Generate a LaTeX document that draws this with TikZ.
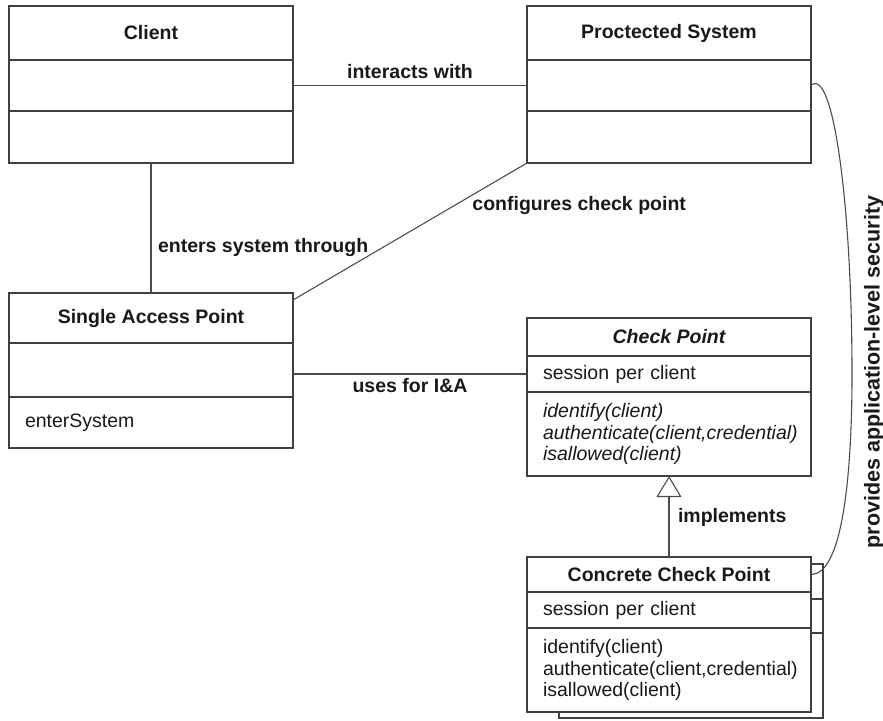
\documentclass[tikz,border=0pt]{standalone}
\usepackage{fontspec}
\setmainfont{Liberation Sans}
\usetikzlibrary{positioning, arrows.meta, backgrounds}
\hyphenpenalty=10000

\begin{document}
\begin{tikzpicture}
	[x=1pt, y=-1pt, outer sep=0pt,
	 box/.style={draw=black!75, line width=1.2pt, fill=white, text=black!90, minimum width=284pt},
	 classname/.style={box, font=\fontsize{19.5}{21.7}\selectfont\bfseries},
	 part/.style={box, text width=252pt, inner xsep=16pt, align=left, font=\fontsize{19.5}{21.7}\selectfont},
	 lbl/.style={inner sep=2pt, text=black!90, font=\fontsize{19.5}{21.7}\selectfont\bfseries},
	 link/.style={draw=black!70, line width=1.1pt},
	 impl/.style={-{Triangle[open, length=21pt, width=25pt]}},
	 shadowbox/.style={draw=black!75, line width=1.2pt}]
   \useasboundingbox (0,0) rectangle (883,720);
   % classes
   \node[classname, minimum height=54pt, anchor=north west] (client) at (9,6) {Client};
   \node[part, minimum height=51pt] (client_a) [below=0pt of client] {};
   \node[part, minimum height=52pt] (client_m) [below=0pt of client_a] {};
   \node[classname, minimum height=54pt] (sys) [right=234pt of client] {Proctected System};
   \node[part, minimum height=51pt] (sys_a) [below=0pt of sys] {};
   \node[part, minimum height=52pt] (sys_m) [below=0pt of sys_a] {};
   \node[classname, minimum height=50pt] (sap) [below=130pt of client_m] {Single Access Point};
   \node[part, minimum height=54pt] (sap_a) [below=0pt of sap] {};
   \node[part, minimum height=51pt] (sap_m) [below=0pt of sap_a] {enterSystem};
   \node[classname, minimum height=38pt] (cp) [below=155pt of sys_m] {\itshape Check Point};
   \node[part, minimum height=36pt] (cp_a) [below=0pt of cp] {session per client};
   \node[part, minimum height=84pt] (cp_m) [below=0pt of cp_a]
      {\itshape identify(client)\\authenticate(client,credential)\\isallowed(client)};
   \node[classname, minimum height=35pt] (ccp) [below=81pt of cp_m] {Concrete Check Point};
   \node[part, minimum height=36pt] (ccp_a) [below=0pt of ccp] {session per client};
   \node[part, minimum height=84pt] (ccp_m) [below=0pt of ccp_a]
      {identify(client)\\authenticate(client,credential)\\isallowed(client)};
   % stacked copy behind the concrete class
   \begin{scope}[on background layer]
      \draw[shadowbox] ([xshift=32pt, yshift=-7pt]ccp.north west) rectangle ([xshift=12pt, yshift=-6pt]ccp_m.south east);
      \draw[shadowbox] ([yshift=-7pt]ccp_a.north east) -- ++(12,0);
      \draw[shadowbox] ([yshift=-5pt]ccp_m.north east) -- ++(12,0);
   \end{scope}
   % associations
   \path[link]
    (client_a) edge node[lbl, above=5pt] {interacts with} (sys_a)
    (client_m) edge node[lbl, pos=.65, right=5pt] {enters system through} (sap)
    (sys_m.south west) edge node[lbl, pos=.31, anchor=west, xshift=16pt] {configures check point} ([yshift=-7pt]sap.north east)
    (sap_a.east |- cp_a.west) edge node[lbl, below=2pt] {uses for I\&A} (cp_a.west)
    (ccp) edge [impl] node[lbl, pos=.49, right=7pt] {implements} (cp_m);
   \draw[link] (sys_a.east) .. controls +(22,-20) and +(0,-170) .. ([xshift=41pt]cp_a.east) coordinate (bend)
      .. controls +(0,110) and +(30,0) .. (ccp.east);
   \node[lbl, rotate=90, anchor=north, font=\fontsize{21.5}{24}\selectfont\bfseries] (sec) at ([xshift=10pt, yshift=2pt]bend) {provides application-level security};
\end{tikzpicture}
\end{document}
